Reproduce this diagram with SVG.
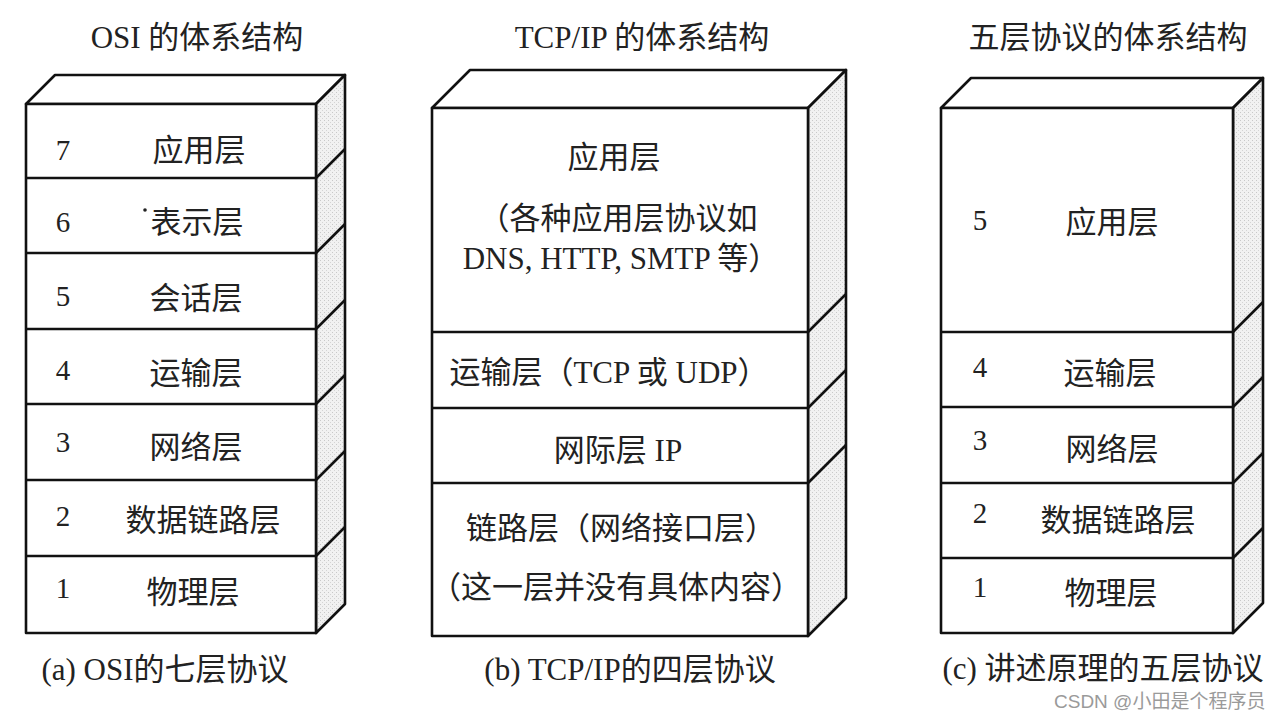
<svg xmlns="http://www.w3.org/2000/svg" width="1280" height="720" viewBox="0 0 1280 720">
<defs>
<pattern id="stip" width="4" height="4" patternUnits="userSpaceOnUse">
<rect width="4" height="4" fill="#f1f1f1"/>
<rect x="0" y="0" width="1" height="1" fill="#c8c8c8"/>
<rect x="2" y="2" width="1" height="1" fill="#d4d4d4"/>
</pattern>
</defs>
<style>
.face{fill:#fff;stroke:#111;stroke-width:2.6;stroke-linejoin:round}
.side{fill:url(#stip);stroke:#111;stroke-width:2.6;stroke-linejoin:round}
.ln{stroke:#111;stroke-width:2.6;fill:none}
.t{font-family:"Liberation Serif","Noto Sans CJK SC",serif;font-size:31px;fill:#222}
.c{text-anchor:middle}
.n{font-family:"Liberation Serif",serif;font-size:29px;fill:#222;text-anchor:middle}
.wm{font-family:"Liberation Sans","Noto Sans CJK SC",sans-serif;font-size:19px;fill:#9a9a9a}
</style>
<rect width="1280" height="720" fill="#fff"/>

<!-- Titles -->
<text class="t c" x="197" y="48">OSI 的体系结构</text>
<text class="t c" x="642" y="48">TCP/IP 的体系结构</text>
<text class="t c" x="1108" y="48">五层协议的体系结构</text>

<!-- Stack A: OSI -->
<g id="stackA">
<polygon class="face" points="26,104 55,75 345,75 316,104"/>
<polygon class="side" points="316,104 345,75 345,604 316,633"/>
<rect class="face" x="26" y="104" width="290" height="529"/>
<path class="ln" d="M26,178H316M26,253H316M26,329H316M26,404H316M26,480H316M26,556H316"/>
<path class="ln" d="M316,178L345,149M316,253L345,224M316,329L345,300M316,404L345,375M316,480L345,451M316,556L345,527"/>
</g>
<g id="osi7"><text class="n" x="63" y="160">7</text><text class="t c" x="199" y="161">应用层</text></g>
<g id="osi6"><text class="n" x="63" y="232">6</text><circle cx="145" cy="210" r="1.8" fill="#222"/><text class="t c" x="197" y="233">表示层</text></g>
<g id="osi5"><text class="n" x="63" y="306">5</text><text class="t c" x="196" y="309">会话层</text></g>
<g id="osi4"><text class="n" x="63" y="380">4</text><text class="t c" x="196" y="384">运输层</text></g>
<g id="osi3"><text class="n" x="63" y="452">3</text><text class="t c" x="196" y="458">网络层</text></g>
<g id="osi2"><text class="n" x="63" y="526">2</text><text class="t c" x="203" y="531">数据链路层</text></g>
<g id="osi1"><text class="n" x="63" y="598">1</text><text class="t c" x="193" y="603">物理层</text></g>

<!-- Stack B: TCP/IP -->
<g id="stackB">
<polygon class="face" points="432,108 470,70 846,70 808,108"/>
<polygon class="side" points="808,108 846,70 846,598 808,636"/>
<rect class="face" x="432" y="108" width="376" height="528"/>
<path class="ln" d="M432,332H808M432,408H808M432,483H808"/>
<path class="ln" d="M808,332L846,294M808,408L846,370M808,483L846,445"/>
</g>
<g id="tcpApp">
<text class="t c" x="614" y="168">应用层</text>
<text class="t c" x="618" y="229">（各种应用层协议如</text>
<text class="t c" x="621" y="269">DNS, HTTP, SMTP 等）</text>
</g>
<g id="tcpTrans"><text class="t c" x="609" y="383">运输层（TCP 或 UDP）</text></g>
<g id="tcpNet"><text class="t c" x="618" y="461">网际层 IP</text></g>
<g id="tcpLink">
<text class="t c" x="621" y="539">链路层（网络接口层）</text>
<text class="t c" x="616" y="598">（这一层并没有具体内容）</text>
</g>

<!-- Stack C: five layers -->
<g id="stackC">
<polygon class="face" points="941,108 971,78 1263,78 1233,108"/>
<polygon class="side" points="1233,108 1263,78 1263,603 1233,633"/>
<rect class="face" x="941" y="108" width="292" height="525"/>
<path class="ln" d="M941,332H1233M941,407H1233M941,483H1233M941,558H1233"/>
<path class="ln" d="M1233,332L1263,302M1233,407L1263,377M1233,483L1263,453M1233,558L1263,528"/>
</g>
<g id="five5"><text class="n" x="980" y="230">5</text><text class="t c" x="1112" y="233">应用层</text></g>
<g id="five4"><text class="n" x="980" y="377">4</text><text class="t c" x="1110" y="384">运输层</text></g>
<g id="five3"><text class="n" x="980" y="450">3</text><text class="t c" x="1112" y="460">网络层</text></g>
<g id="five2"><text class="n" x="980" y="523">2</text><text class="t c" x="1118" y="531">数据链路层</text></g>
<g id="five1"><text class="n" x="980" y="597">1</text><text class="t c" x="1111" y="604">物理层</text></g>

<!-- Captions -->
<text class="t c" x="165" y="680">(a) OSI的七层协议</text>
<text class="t c" x="630" y="680">(b) TCP/IP的四层协议</text>
<text class="t c" x="1103" y="679">(c) 讲述原理的五层协议</text>

<text class="wm" x="1054" y="708">CSDN @小田是个程序员</text>
</svg>
